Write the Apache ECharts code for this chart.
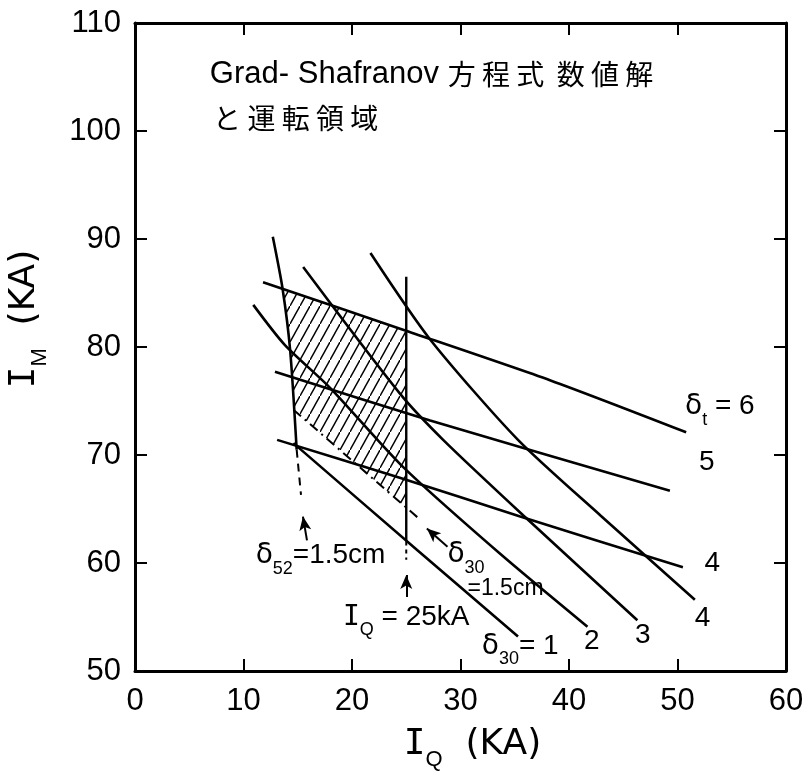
<!DOCTYPE html>
<html>
<head>
<meta charset="utf-8">
<script src="https://cdn.jsdelivr.net/npm/echarts@6/dist/echarts.min.js"></script>
<style>
  html, body { margin: 0; background: #fff; }
  #chart { width: 805px; height: 781px; }
</style>
</head>
<body>
<div id="chart"></div>
<script>
// points are [I_Q (kA), I_M (kA)]

// delta_t lines
const dt6 = [[11.8, 86.0], [24.7, 81.6], [38.3, 76.9], [50.8, 72.1]];
const dt5 = [[12.9, 77.7], [27.2, 73.2], [49.3, 66.7]];
const dt4 = [[13.1, 71.4], [24.4, 67.9], [35.5, 64.3], [50.5, 59.6]];

// delta_30 curves
const d30n1 = [[14.6, 71.1], [26.0, 61.2], [35.3, 53.2]];
const d30n2 = [[10.9, 83.9], [13.8, 80.2], [18.0, 76.2], [24.7, 68.9], [33.6, 60.9], [41.7, 54.1]];
const d30n3 = [[15.5, 87.4], [24.4, 75.7], [28.4, 71.4], [35.9, 64.3], [46.3, 54.7]];
const d30n4 = [[21.7, 88.7], [27.2, 80.7], [35.3, 71.4], [42.9, 64.4], [51.6, 56.6]];

// operating region boundaries
const d52 = [[12.7, 90.2], [13.6, 85.4], [14.3, 79.7], [14.9, 70.5]];
const d52dash = [[14.9, 70.5], [15.3, 66.3]];
const d30limit = [[14.6, 74.2], [26.3, 64.0]];
const iq25 = [[25, 86.5], [25, 62.0]];
const iq25dash = [[25, 62.0], [25, 60.3]];
const region = [[13.6, 85.4], [25, 81.5], [25, 65.1], [14.65, 74.2], [14.3, 79.7]];

// arrows: [from, to]
const arrows = [
  [[15.85, 62.1], [15.48, 64.3]],
  [[25, 56.85], [25, 58.9]],
  [[28.8, 61.5], [26.9, 63.2]]
];

// centred annotations
const noteX = [53.9, 52.7, 53.2, 52.3, 46.8, 42.1, 35.5, 25.0, 17.1];
const noteY = [74.1, 69.0, 59.6, 54.5, 52.9, 52.4, 51.9, 54.6, 60.3];
const noteText = [
  '{g|δ}{s|t}{b| = 6}',
  '{b|5}', '{b|4}', '{b|4}', '{b|3}', '{b|2}',
  '{g|δ}{s|30}{b|= 1}',
  '{i|I}{s|Q}{b| = 25kA}',
  '{g|δ}{s|52}{b|=1.5cm}'
];
// left-aligned texts (title and the δ30 = 1.5cm note)
const leftX = [6.9, 7.2, 28.8];
const leftY = [105.2, 101.2, 59.3];
const leftText = [
  '{t|Grad- Shafranov }{j|方 程 式  数 値 解}',
  '{j|と 運 転 領 域}',
  '{g|δ}{s|30}\n{p|=1.5cm}'
];

const xTicks = { min: 0, max: 60, interval: 10 };
const yTicks = { min: 50, max: 110, interval: 10 };

// hatch pattern for the operating region
const tile = document.createElement('canvas');
tile.width = 10;
tile.height = 18;
const tc = tile.getContext('2d');
tc.strokeStyle = '#000';
tc.lineWidth = 1.5;
tc.beginPath();
tc.moveTo(-1, 19.8);
tc.lineTo(11, -1.8);
tc.stroke();

const sans = "'Liberation Sans', Arial, sans-serif";
const rich = {
  b: { fontSize: 28, fontFamily: sans, color: '#000', padding: [0, 0, 8, 0], verticalAlign: 'bottom' },
  g: { fontSize: 28, fontFamily: "'DejaVu Sans'", color: '#000', padding: [0, 0, 8, 0], verticalAlign: 'bottom' },
  i: { fontSize: 28, fontFamily: "'DejaVu Sans Mono'", color: '#000', padding: [0, 0, 8, 0], verticalAlign: 'bottom' },
  s: { fontSize: 18, fontFamily: sans, color: '#000', verticalAlign: 'bottom' },
  p: { fontSize: 23, fontFamily: sans, color: '#000', padding: [0, 0, 0, 20], lineHeight: 24 },
  t: { fontSize: 31, fontFamily: sans, color: '#000' },
  j: { fontSize: 28, fontFamily: "'Noto Sans CJK JP'", color: '#000' }
};
const nameRich = {
  b: { fontSize: 36, fontFamily: "'DejaVu Sans'", color: '#000', padding: [0, 0, 8, 0], verticalAlign: 'bottom' },
  i: { fontSize: 36, fontFamily: "'DejaVu Sans Mono'", color: '#000', padding: [0, 0, 8, 0], verticalAlign: 'bottom' },
  s: { fontSize: 22, fontFamily: sans, color: '#000', verticalAlign: 'bottom' }
};

function curve(data, extra) {
  return Object.assign({
    type: 'line', data: data, symbol: 'none', silent: true,
    smooth: 0.25,
    lineStyle: { color: '#000', width: 2.6 }
  }, extra || {});
}

function frameAxis(pos, ticks, showLabel) {
  return {
    type: 'value', position: pos, min: ticks.min, max: ticks.max, interval: ticks.interval,
    axisLine: { show: true, onZero: false, lineStyle: { color: '#000', width: 3 } },
    axisTick: { show: true, inside: true, length: 12, lineStyle: { color: '#000', width: 2 } },
    axisLabel: { show: showLabel, fontSize: 31, fontFamily: sans, color: '#000', margin: 14 },
    splitLine: { show: false }
  };
}

function textSeries(xs, ys, texts, align) {
  return {
    type: 'scatter', silent: true, symbolSize: 0, z: 5,
    itemStyle: { color: '#000', opacity: 1 },
    data: xs.map(function (x, i) {
      return { value: [x, ys[i]], label: { formatter: texts[i] } };
    }),
    label: {
      show: true, color: '#000', textBorderWidth: 0, position: 'inside',
      align: align, verticalAlign: 'middle', rich: rich
    }
  };
}

const chart = echarts.init(document.getElementById('chart'));
const xBottom = frameAxis('bottom', xTicks, true);
xBottom.axisLabel.margin = 15;
xBottom.name = '{i|I}{s|Q}{b|  (KA)}';
xBottom.nameLocation = 'middle';
xBottom.nameGap = 56;
xBottom.nameTextStyle = { color: '#000', padding: [0, 0, 0, 24], rich: nameRich };
const yLeft = frameAxis('left', yTicks, true);
yLeft.name = '{i|I}{s|M}{b|  (KA)}';
yLeft.nameLocation = 'middle';
yLeft.nameRotate = 90;
yLeft.nameGap = 84;
yLeft.nameTextStyle = { color: '#000', padding: [0, 0, 0, 56], rich: nameRich };

chart.setOption({
  animation: false,
  backgroundColor: '#fff',
  grid: { left: 135, right: 19, top: 23, bottom: 110, containLabel: false, outerBoundsMode: 'none' },
  xAxis: [xBottom, frameAxis('top', xTicks, false)],
  yAxis: [yLeft, frameAxis('right', yTicks, false)],
  series: [
    {
      type: 'custom', silent: true, z: 1,
      data: [region[0]],
      renderItem: function (params, api) {
        return {
          type: 'polygon',
          shape: { points: region.map(function (p) { return api.coord(p); }) },
          style: { fill: { image: tile, repeat: 'repeat' }, stroke: null }
        };
      }
    },
    curve(dt6), curve(dt5), curve(dt4),
    curve(d30n1), curve(d30n2), curve(d30n3), curve(d30n4),
    curve(d52),
    curve(d52dash, { smooth: false, lineStyle: { color: '#000', width: 2, type: [8, 6] } }),
    curve(d30limit, { smooth: false, lineStyle: { color: '#000', width: 2, type: [10, 5, 2, 5] } }),
    curve(iq25, { smooth: false, lineStyle: { color: '#000', width: 2.4 } }),
    curve(iq25dash, { smooth: false, lineStyle: { color: '#000', width: 2, type: [4, 4] },
      markLine: {
        silent: true, symbol: ['none', 'arrow'], symbolSize: [9, 14],
        lineStyle: { color: '#000', width: 2, type: 'solid' },
        label: { show: false },
        data: arrows.map(function (a) { return [{ coord: a[0] }, { coord: a[1] }]; })
      }
    }),
    textSeries(noteX, noteY, noteText, 'center'),
    textSeries(leftX, leftY, leftText, 'left')
  ]
});
</script>
</body>
</html>
